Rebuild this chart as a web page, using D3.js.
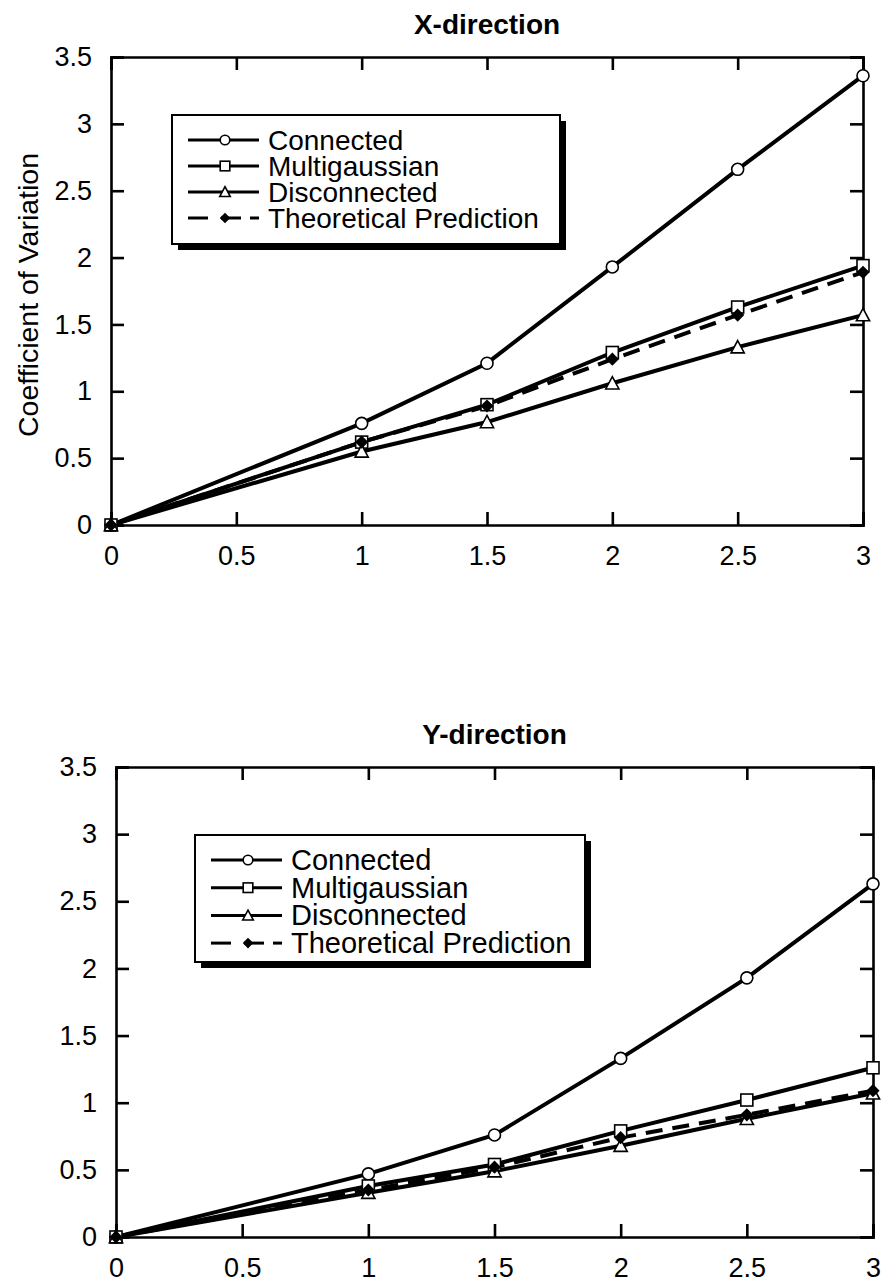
<!DOCTYPE html>
<html><head><meta charset="utf-8">
<script src="https://cdn.jsdelivr.net/npm/d3@7"></script>
<style>body{margin:0;background:#fff}svg{display:block}</style>
</head><body>
<svg id="c" width="883" height="1283"></svg>
<script>
const xValues = [0, 1, 1.5, 2, 2.5, 3];
const seriesNames = ["Connected", "Multigaussian", "Disconnected", "Theoretical Prediction"];
const xConnected = [0, 0.76, 1.21, 1.93, 2.66, 3.36];
const xMultigaussian = [0, 0.62, 0.90, 1.29, 1.63, 1.94];
const xDisconnected = [0, 0.55, 0.77, 1.06, 1.33, 1.57];
const xTheoretical = [0, 0.62, 0.89, 1.24, 1.57, 1.89];
const yConnected = [0, 0.47, 0.76, 1.33, 1.93, 2.63];
const yMultigaussian = [0, 0.38, 0.54, 0.79, 1.02, 1.26];
const yDisconnected = [0, 0.33, 0.49, 0.68, 0.88, 1.07];
const yTheoretical = [0, 0.35, 0.52, 0.74, 0.91, 1.09];
const xTicks = [0, 0.5, 1, 1.5, 2, 2.5, 3];
const yTicks = [0, 0.5, 1, 1.5, 2, 2.5, 3, 3.5];
const markers = ["circle", "square", "triangle", "diamond"];

const svg = d3.select("#c");
const FONT = "'Liberation Sans', Arial, Helvetica, sans-serif";

function marker(g, type, x, y, s) {
  if (type === "circle") {
    g.append("circle").attr("cx", x).attr("cy", y).attr("r", s)
      .attr("fill", "#fff").attr("stroke", "#000").attr("stroke-width", 1.6);
  } else if (type === "square") {
    g.append("rect").attr("x", x - s).attr("y", y - s).attr("width", 2 * s).attr("height", 2 * s)
      .attr("fill", "#fff").attr("stroke", "#000").attr("stroke-width", 1.6);
  } else if (type === "triangle") {
    g.append("path").attr("d", `M${x},${y - s * 1.1}L${x + s * 1.1},${y + s * 0.95}L${x - s * 1.1},${y + s * 0.95}Z`)
      .attr("fill", "#fff").attr("stroke", "#000").attr("stroke-width", 1.6);
  } else {
    g.append("path").attr("d", `M${x},${y - s * 1.1}L${x + s * 1.1},${y}L${x},${y + s * 1.1}L${x - s * 1.1},${y}Z`)
      .attr("fill", "#000");
  }
}

function chart(cfg) {
  const x = d3.scaleLinear().domain([0, 3]).range([cfg.l, cfg.r]);
  const y = d3.scaleLinear().domain([0, 3.5]).range([cfg.b, cfg.t]);
  const g = svg.append("g");

  g.append("text").attr("x", (cfg.l + cfg.r) / 2).attr("y", cfg.t - 23)
    .attr("text-anchor", "middle").attr("font-family", FONT).attr("font-weight", "bold")
    .attr("font-size", 28).text(cfg.title);

  const ax = g.append("g");
  const bottom = d3.axisBottom(x).tickValues(xTicks).tickSize(-13).tickPadding(21).tickFormat(d3.format("~g"));
  const top = d3.axisTop(x).tickValues(xTicks).tickSize(-13).tickFormat("");
  const left = d3.axisLeft(y).tickValues(yTicks).tickSize(-13).tickPadding(19).tickFormat(d3.format("~g"));
  const right = d3.axisRight(y).tickValues(yTicks).tickSize(-13).tickFormat("");
  [[bottom, `translate(0,${cfg.b})`], [top, `translate(0,${cfg.t})`],
   [left, `translate(${cfg.l},0)`], [right, `translate(${cfg.r},0)`]].forEach(([a, tr]) => {
    const s = ax.append("g").attr("transform", tr).call(a);
    s.selectAll(".domain").attr("stroke", "#000").attr("stroke-width", 2.6);
    s.selectAll(".tick line").attr("stroke", "#000").attr("stroke-width", 2.6);
    s.selectAll(".tick text").attr("font-size", 27).attr("fill", "#000").attr("font-family", FONT);
  });

  const line = d3.line().x((d, i) => x(xValues[i])).y(d => y(d));
  cfg.data.forEach((vals, k) => {
    g.append("path").datum(vals).attr("d", line).attr("fill", "none")
      .attr("stroke", "#000").attr("stroke-width", 4)
      .attr("stroke-dasharray", k === 3 ? "17,10" : null);
  });
  cfg.data.forEach((vals, k) => {
    vals.forEach((v, i) => marker(g, markers[k], x(xValues[i]), y(v), 6));
  });

  const L = cfg.legend;
  g.append("rect").attr("x", L.x + 6).attr("y", L.y + 6).attr("width", L.w).attr("height", L.h).attr("fill", "#000");
  g.append("rect").attr("x", L.x).attr("y", L.y).attr("width", L.w).attr("height", L.h)
    .attr("fill", "#fff").attr("stroke", "#000").attr("stroke-width", 2);
  seriesNames.forEach((name, k) => {
    const cy = L.y + 25 + k * L.dy;
    const lx0 = L.x + 16, lx1 = L.x + 87, mx = L.x + 53;
    const seg = (a, b) => g.append("line").attr("x1", a).attr("x2", b).attr("y1", cy).attr("y2", cy)
      .attr("stroke", "#000").attr("stroke-width", 3);
    if (k === 3) { seg(lx0, lx0 + 20); seg(mx - 4, mx + 16); seg(lx1 - 9, lx1); }
    else seg(lx0, lx1);
    marker(g, markers[k], mx, cy, 4.8);
    g.append("text").attr("x", L.x + 96).attr("y", cy + 10).attr("font-family", FONT)
      .attr("font-size", L.fs).attr("fill", "#000").text(name);
  });

  if (cfg.ylabel) {
    g.append("text").attr("transform", `translate(38,${(cfg.t + cfg.b) / 2 + 4}) rotate(-90)`)
      .attr("text-anchor", "middle").attr("font-family", FONT).attr("font-size", 28.5).text(cfg.ylabel);
  }
}

chart({ l: 111, r: 863, t: 57, b: 525, title: "X-direction", ylabel: "Coefficient of Variation",
  data: [xConnected, xMultigaussian, xDisconnected, xTheoretical],
  legend: { x: 172, y: 115, w: 388, h: 129, dy: 26, fs: 28 } });
chart({ l: 116, r: 873, t: 767, b: 1237, title: "Y-direction", ylabel: null,
  data: [yConnected, yMultigaussian, yDisconnected, yTheoretical],
  legend: { x: 195, y: 835, w: 390, h: 127, dy: 27.7, fs: 29 } });
</script>
</body></html>
